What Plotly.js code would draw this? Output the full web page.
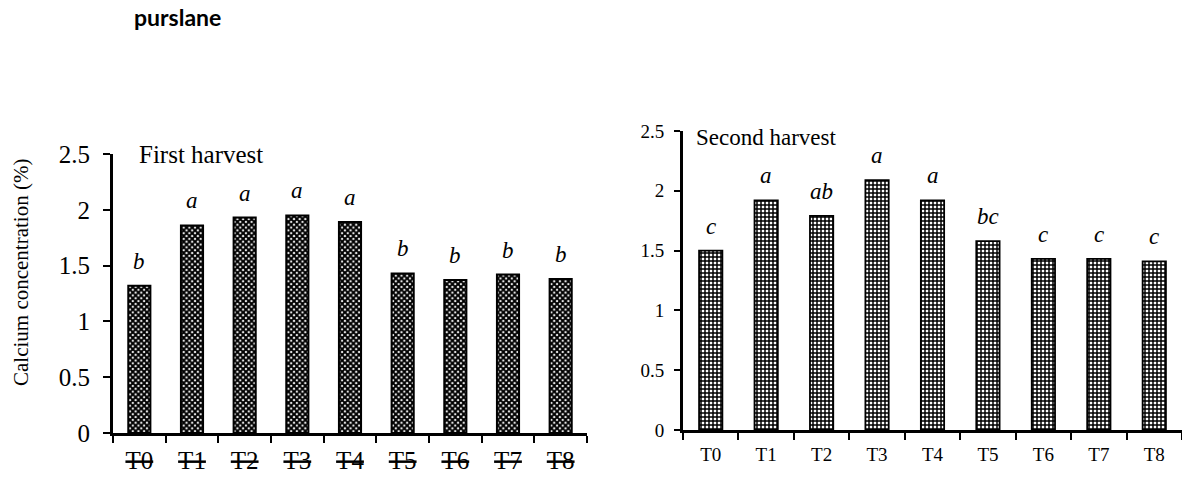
<!DOCTYPE html>
<html>
<head>
<meta charset="utf-8">
<script src="https://cdn.plot.ly/plotly-3.0.1.min.js"></script>
<style>
  html, body { margin: 0; padding: 0; background: #ffffff; }
  #chart { width: 1182px; height: 479px; }
</style>
</head>
<body>
<div id="chart"></div>
<script>
// ---- data ----
const categories = ['T0', 'T1', 'T2', 'T3', 'T4', 'T5', 'T6', 'T7', 'T8'];
const firstHarvest = [1.32, 1.86, 1.93, 1.95, 1.89, 1.43, 1.37, 1.42, 1.38];
const secondHarvest = [1.50, 1.92, 1.79, 2.09, 1.92, 1.58, 1.43, 1.43, 1.41];
const firstLetters = ['b', 'a', 'a', 'a', 'a', 'b', 'b', 'b', 'b'];
const secondLetters = ['c', 'a', 'ab', 'a', 'a', 'bc', 'c', 'c', 'c'];
const yTicks = [0, 0.5, 1, 1.5, 2, 2.5];
const pageTitle = 'purslane';
const yTitle = 'Calcium concentration (%)';
const panelTitles = ['First harvest', 'Second harvest'];

// ---- layout helpers ----
const W = 1182, H = 479;
const px = v => v / W;
const py = v => (H - v) / H;
const serif = 'Liberation Serif';

const traces = [
  {
    type: 'bar', x: categories, y: firstHarvest, xaxis: 'x', yaxis: 'y',
    width: 0.42,
    marker: {
      color: '#ffffff',
      line: { color: '#000000', width: 2 },
      pattern: { shape: 'x', fgcolor: '#000000', bgcolor: '#ffffff', size: 4, solidity: 0.75 }
    },
    hoverinfo: 'x+y', showlegend: false
  },
  {
    type: 'bar', x: categories, y: secondHarvest, xaxis: 'x2', yaxis: 'y2',
    width: 0.42,
    marker: {
      color: '#ffffff',
      line: { color: '#000000', width: 1.8 },
      pattern: { shape: '+', fgcolor: '#000000', bgcolor: '#ffffff', size: 4, solidity: 0.6 }
    },
    hoverinfo: 'x+y', showlegend: false
  }
];

const annotations = [];
categories.forEach((c, i) => {
  annotations.push({
    xref: 'x', yref: 'y', x: c, y: firstHarvest[i], text: firstLetters[i],
    showarrow: false, yanchor: 'bottom', yshift: 10,
    font: { family: serif, size: 23, style: 'italic', color: '#000' }
  });
  annotations.push({
    xref: 'x2', yref: 'y2', x: c, y: secondHarvest[i], text: secondLetters[i],
    showarrow: false, yanchor: 'bottom', yshift: 10,
    font: { family: serif, size: 23, style: 'italic', color: '#000' }
  });
});
annotations.push({
  xref: 'paper', yref: 'paper', x: px(132), y: py(33), xanchor: 'left', yanchor: 'bottom',
  text: '<b>' + pageTitle + '</b>', showarrow: false,
  font: { family: 'Lato', size: 23, color: '#000' }
});
annotations.push({
  xref: 'paper', yref: 'paper', x: px(137), y: py(170), xanchor: 'left', yanchor: 'bottom',
  text: panelTitles[0], showarrow: false,
  font: { family: serif, size: 25, color: '#000' }
});
annotations.push({
  xref: 'paper', yref: 'paper', x: px(694), y: py(152), xanchor: 'left', yanchor: 'bottom',
  text: panelTitles[1], showarrow: false,
  font: { family: serif, size: 23, color: '#000' }
});
annotations.push({
  xref: 'paper', yref: 'paper', x: px(21), y: py(273), xanchor: 'center', yanchor: 'middle',
  text: yTitle, textangle: -90, showarrow: false,
  font: { family: serif, size: 21, color: '#000' }
});

const xCommon = {
  type: 'category', range: [-0.5, 8.5], fixedrange: true,
  showline: true, linecolor: '#000', showgrid: false, zeroline: false,
  ticks: 'outside', tickson: 'boundaries', ticklen: 7, tickwidth: 2, tickcolor: '#000'
};
const yCommon = {
  range: [0, 2.5], tickvals: yTicks, fixedrange: true,
  showline: true, linecolor: '#000', showgrid: false, zeroline: false,
  ticks: 'outside', tickwidth: 2, tickcolor: '#000'
};

const layout = {
  width: W, height: H,
  margin: { l: 0, r: 0, t: 0, b: 0 },
  paper_bgcolor: '#ffffff', plot_bgcolor: 'rgba(0,0,0,0)',
  font: { family: serif, color: '#000' },
  xaxis: Object.assign({}, xCommon, {
    domain: [px(113), px(587)], anchor: 'y', linewidth: 3,
    ticklabelstandoff: 3,
    tickmode: 'array', tickvals: categories,
    ticktext: categories.map(c => '<s>' + c + '</s>'),
    tickfont: { family: serif, size: 25, color: '#000' }
  }),
  yaxis: Object.assign({}, yCommon, {
    domain: [py(433), py(154)], anchor: 'x', linewidth: 3, ticklen: 7,
    ticklabelstandoff: 8,
    tickfont: { family: serif, size: 25, color: '#000' }
  }),
  xaxis2: Object.assign({}, xCommon, {
    domain: [px(683), 1], anchor: 'y2', linewidth: 3,
    ticklabelstandoff: 5,
    tickfont: { family: serif, size: 19, color: '#000' }
  }),
  yaxis2: Object.assign({}, yCommon, {
    domain: [py(430), py(131)], anchor: 'x2', linewidth: 3, ticklen: 6,
    ticklabelstandoff: 6,
    tickfont: { family: serif, size: 19, color: '#000' }
  }),
  annotations: annotations
};

Plotly.newPlot('chart', traces, layout, { displayModeBar: false, staticPlot: true });
</script>
</body>
</html>
